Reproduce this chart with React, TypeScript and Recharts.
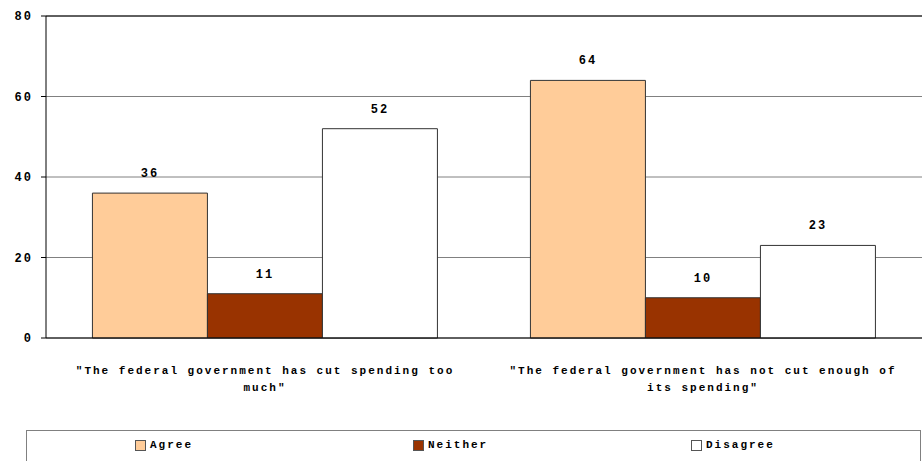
import React from 'react';
import { BarChart, Bar, XAxis, YAxis, CartesianGrid, Legend, LabelList, ReferenceLine } from 'recharts';

const categories = [
  '"The federal government has cut spending too much"',
  '"The federal government has not cut enough of its spending"',
];
const agree = [36, 64];
const neither = [11, 10];
const disagree = [52, 23];
const yTicks = [0, 20, 40, 60, 80];

const seriesNames = ['Agree', 'Neither', 'Disagree'];
const seriesColors = ['#FFCC99', '#993300', '#FFFFFF'];

const data = categories.map((name, i) => ({
  name,
  Agree: agree[i],
  Neither: neither[i],
  Disagree: disagree[i],
}));

const font = '"Liberation Mono", "DejaVu Sans Mono", monospace';

// Greedy wrap of the category text to a max number of characters per line
const wrap = (text: string, maxChars: number) => {
  const words = text.split(' ');
  const lines: string[] = [];
  let cur = '';
  words.forEach(w => {
    const next = cur ? `${cur} ${w}` : w;
    if (next.length > maxChars && cur) {
      lines.push(cur);
      cur = w;
    } else {
      cur = next;
    }
  });
  if (cur) lines.push(cur);
  return lines;
};

const CategoryTick = ({ x, y, payload }: any) => {
  const lines = wrap(payload.value, 45);
  return (
    <g transform={`translate(${x},${y})`}>
      {lines.map((line, i) => (
        <text
          key={i}
          x={0}
          y={28 + i * 17}
          textAnchor="middle"
          fontFamily={font}
          fontWeight="bold"
          fontSize={11}
          letterSpacing={2}
          fill="#000"
        >
          {line}
        </text>
      ))}
    </g>
  );
};

const LegendBox = () => (
  <div
    style={{
      width: 895,
      height: 31,
      border: '1px solid #808080',
      borderBottom: 'none',
      boxSizing: 'border-box',
      position: 'relative',
      fontFamily: font,
      fontWeight: 'bold',
      fontSize: 11,
      letterSpacing: 2,
    }}
  >
    {seriesNames.map((name, i) => (
      <div
        key={name}
        style={{
          position: 'absolute',
          left: 108 + i * 278,
          top: 8,
          display: 'flex',
          alignItems: 'center',
        }}
      >
        <span
          style={{
            display: 'inline-block',
            width: 9,
            height: 9,
            background: seriesColors[i],
            border: '1px solid #555',
            marginRight: 4,
          }}
        />
        <span>{name}</span>
      </div>
    ))}
  </div>
);

export default function App() {
  return (
    <div style={{ position: 'absolute', left: 0, top: 0, background: '#fff' }}>
      <BarChart
        width={924}
        height={461}
        data={data}
        margin={{ top: 16, right: 2, left: 0, bottom: 0 }}
        barGap={0}
        barCategoryGap="10.6%"
      >
        <CartesianGrid horizontal vertical={false} stroke="#808080" strokeWidth={1} />
        <XAxis
          dataKey="name"
          height={92}
          tick={<CategoryTick />}
          tickLine={false}
          axisLine={{ stroke: '#000' }}
          interval={0}
        />
        <YAxis
          width={46}
          domain={[0, 80]}
          ticks={yTicks}
          tickLine={{ stroke: '#000' }}
          tickSize={5}
          axisLine={{ stroke: '#000' }}
          tick={{ fill: '#000', fontFamily: font, fontWeight: 'bold', fontSize: 12, letterSpacing: 2 }}
          tickMargin={8}
        />
        <YAxis
          yAxisId="right"
          orientation="right"
          width={0}
          domain={[0, 80]}
          tick={false}
          tickLine={false}
          axisLine={{ stroke: '#808080' }}
        />
        <ReferenceLine y={80} stroke="#000" />
        <Legend
          verticalAlign="bottom"
          content={<LegendBox />}
          wrapperStyle={{ left: 26, width: 895, height: 31 }}
        />
        {seriesNames.map((name, i) => (
          <Bar
            key={name}
            dataKey={name}
            fill={seriesColors[i]}
            stroke="#333"
            strokeWidth={1}
            isAnimationActive={false}
          >
            <LabelList
              dataKey={name}
              position="top"
              offset={16}
              fill="#000"
              fontFamily={font}
              fontWeight="bold"
              fontSize={12}
              letterSpacing={2}
            />
          </Bar>
        ))}
      </BarChart>
    </div>
  );
}
